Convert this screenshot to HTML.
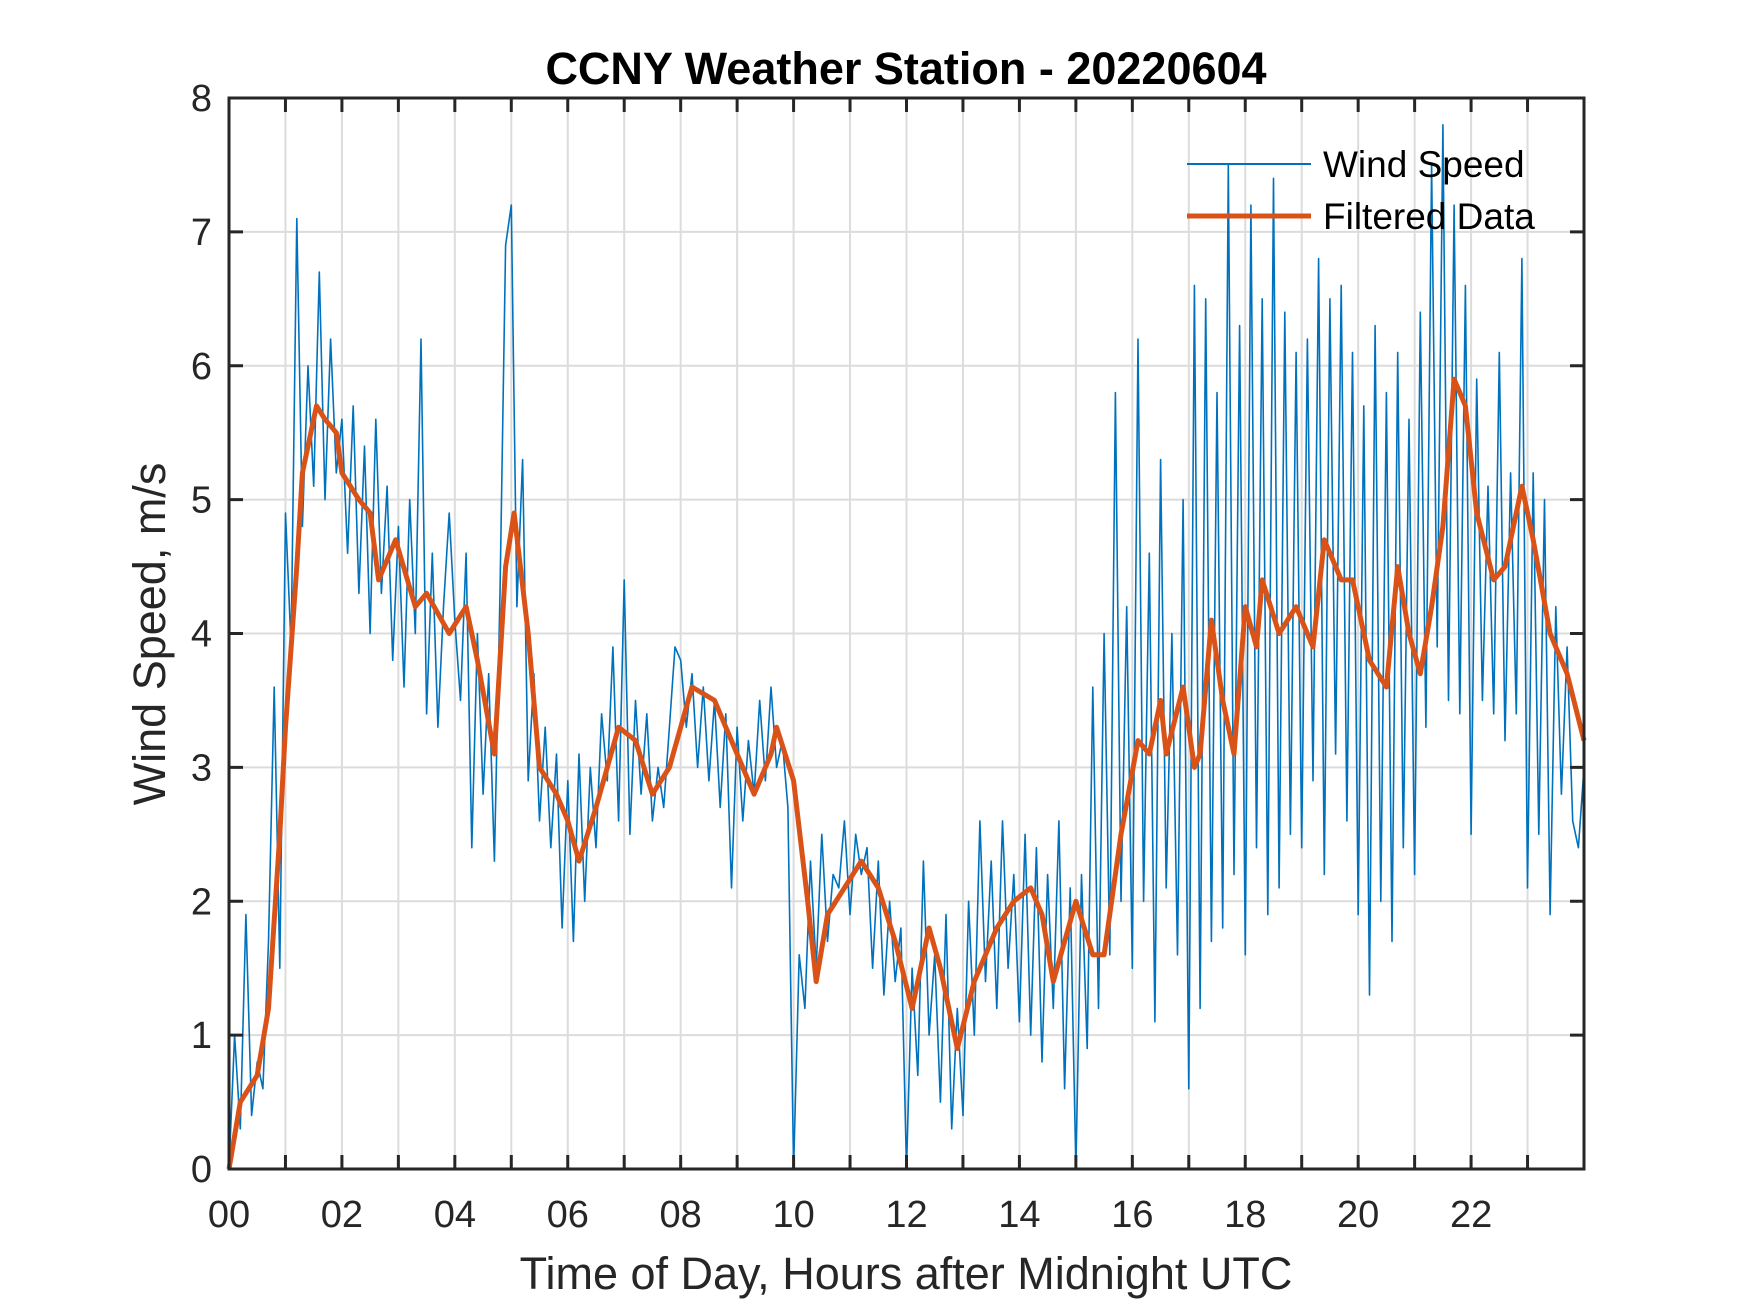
<!DOCTYPE html>
<html><head><meta charset="utf-8"><style>body{margin:0;background:#fff}svg{display:block}</style></head>
<body>
<svg id="chart" width="1750" height="1313" viewBox="0 0 1750 1313" font-family="'Liberation Sans', Arial, sans-serif">
<rect width="1750" height="1313" fill="#fff"/>
<g id="grid"></g>
<g id="series"></g>
<g id="axes"></g>
<text x="906" y="84" text-anchor="middle" font-size="45" font-weight="bold" fill="#000">CCNY Weather Station - 20220604</text>
<text x="906" y="1289" text-anchor="middle" font-size="45" fill="#262626">Time of Day, Hours after Midnight UTC</text>
<text transform="translate(165,634) rotate(-90)" text-anchor="middle" font-size="45" fill="#262626">Wind Speed, m/s</text>
<g>
<line x1="1187" y1="164" x2="1311" y2="164" stroke="#0072BD" stroke-width="2"/>
<text x="1323" y="177" font-size="37" fill="#000">Wind Speed</text>
<line x1="1187" y1="216" x2="1311" y2="216" stroke="#D95319" stroke-width="5"/>
<text x="1323" y="229" font-size="37" fill="#000">Filtered Data</text>
</g>
</svg>
<script>
const windRaw = [
0,1.0,0.3,1.9,0.4,0.8,0.6,1.7,3.6,1.5,
4.9,3.9,7.1,4.8,6.0,5.1,6.7,5.0,6.2,5.2,
5.6,4.6,5.7,4.3,5.4,4.0,5.6,4.3,5.1,3.8,
4.8,3.6,5.0,4.0,6.2,3.4,4.6,3.3,4.2,4.9,
4.1,3.5,4.6,2.4,4.0,2.8,3.7,2.3,4.3,6.9,
7.2,4.2,5.3,2.9,3.7,2.6,3.3,2.4,3.1,1.8,
2.9,1.7,3.1,2.0,3.0,2.4,3.4,2.9,3.9,2.6,
4.4,2.5,3.5,2.8,3.4,2.6,3.0,2.7,3.3,3.9,
3.8,3.3,3.7,3.0,3.6,2.9,3.5,2.7,3.4,2.1,
3.3,2.6,3.2,2.8,3.5,2.9,3.6,3.0,3.2,2.7,
0.0,1.6,1.2,2.3,1.5,2.5,1.7,2.2,2.1,2.6,
1.9,2.5,2.2,2.4,1.5,2.3,1.3,2.0,1.4,1.8,
0.0,1.5,0.7,2.3,1.0,1.6,0.5,1.9,0.3,1.2,
0.4,2.0,1.0,2.6,1.4,2.3,1.2,2.6,1.5,2.2,
1.1,2.5,1.0,2.4,0.8,2.2,1.2,2.6,0.6,2.1,
0.0,2.2,0.9,3.6,1.2,4.0,1.6,5.8,2.0,4.2,
1.5,6.2,2.0,4.6,1.1,5.3,2.1,4.0,1.6,5.0,
0.6,6.6,1.2,6.5,1.7,5.8,1.8,7.5,2.2,6.3,
1.6,7.2,2.4,6.5,1.9,7.4,2.1,6.4,2.5,6.1,
2.4,6.2,2.9,6.8,2.2,6.5,3.1,6.6,2.6,6.1,
1.9,5.7,1.3,6.3,2.0,5.8,1.7,6.1,2.4,5.6,
2.2,6.4,3.3,7.5,3.9,7.8,3.5,7.2,3.4,6.6,
2.5,5.9,3.5,5.1,3.4,6.1,3.2,5.2,3.4,6.8,
2.1,5.2,2.5,5.0,1.9,4.2,2.8,3.9,2.6,2.4,
3.0];
const rawStepHours = 0.1;
const filtTimes = [0,0.2,0.5,0.7,0.9,1.0,1.2,1.3,1.55,1.7,1.9,2.0,2.3,2.5,2.65,2.95,3.3,3.5,3.9,4.2,4.4,4.7,4.9,5.05,5.3,5.5,5.8,6.0,6.2,6.5,6.7,6.9,7.2,7.5,7.8,8.2,8.6,9.0,9.3,9.6,9.7,10.0,10.25,10.4,10.6,10.9,11.2,11.5,11.8,12.1,12.4,12.6,12.9,13.2,13.6,13.9,14.2,14.4,14.6,14.8,15.0,15.3,15.5,15.8,16.1,16.3,16.5,16.6,16.9,17.1,17.2,17.4,17.6,17.8,18.0,18.2,18.3,18.6,18.9,19.2,19.4,19.7,19.9,20.2,20.5,20.7,20.9,21.1,21.3,21.5,21.7,21.9,22.1,22.4,22.6,22.9,23.1,23.4,23.7,24.0];
const filtValues = [0,0.5,0.7,1.2,2.5,3.3,4.5,5.2,5.7,5.6,5.5,5.2,5.0,4.9,4.4,4.7,4.2,4.3,4.0,4.2,3.8,3.1,4.5,4.9,4.0,3.0,2.8,2.6,2.3,2.7,3.0,3.3,3.2,2.8,3.0,3.6,3.5,3.1,2.8,3.1,3.3,2.9,2.0,1.4,1.9,2.1,2.3,2.1,1.7,1.2,1.8,1.5,0.9,1.4,1.8,2.0,2.1,1.9,1.4,1.7,2.0,1.6,1.6,2.5,3.2,3.1,3.5,3.1,3.6,3.0,3.1,4.1,3.5,3.1,4.2,3.9,4.4,4.0,4.2,3.9,4.7,4.4,4.4,3.8,3.6,4.5,4.0,3.7,4.2,4.8,5.9,5.7,4.9,4.4,4.5,5.1,4.7,4.0,3.7,3.2];
const xTickLabels = ["00","02","04","06","08","10","12","14","16","18","20","22"];
const yTickLabels = ["0","1","2","3","4","5","6","7","8"];

const L=229,R=1584,T=98,B=1169,NS="http://www.w3.org/2000/svg";
const xs=h=>L+(h/24)*(R-L), ys=v=>B-(v/8)*(B-T);
function mk(tag,attrs,parent){const e=document.createElementNS(NS,tag);for(const k in attrs)e.setAttribute(k,attrs[k]);parent.appendChild(e);return e;}
const grid=document.getElementById('grid'),axes=document.getElementById('axes'),series=document.getElementById('series');
for(let h=1;h<24;h++){const g=mk('line',{x1:xs(h),x2:xs(h),y1:T,y2:B,stroke:'#dcdcdc','stroke-width':2},grid);

}
for(let v=1;v<8;v++){const g=mk('line',{x1:L,x2:R,y1:ys(v),y2:ys(v),stroke:'#dcdcdc','stroke-width':2},grid);

}
let p=windRaw.map((v,i)=>xs(i*rawStepHours).toFixed(1)+','+ys(v).toFixed(1)).join(' ');
const rl=mk('polyline',{points:p,fill:'none',stroke:'#0072BD','stroke-width':1.6,'stroke-linejoin':'round'},series);


p=filtValues.map((v,i)=>xs(filtTimes[i]).toFixed(1)+','+ys(v).toFixed(1)).join(' ');
const fl=mk('polyline',{points:p,fill:'none',stroke:'#D95319','stroke-width':5,'stroke-linejoin':'round'},series);


const box=mk('rect',{x:L,y:T,width:R-L,height:B-T,fill:'none',stroke:'#262626','stroke-width':3},axes);


for(let h=1;h<24;h++){
 const t1=mk('line',{x1:xs(h),x2:xs(h),y1:B,y2:B-14,stroke:'#262626','stroke-width':3},axes);
 
 
 const t2=mk('line',{x1:xs(h),x2:xs(h),y1:T,y2:T+14,stroke:'#262626','stroke-width':3},axes);
 
 }
xTickLabels.forEach((s,i)=>{const t=mk('text',{x:xs(i*2),y:1227,'text-anchor':'middle','font-size':38,fill:'#262626'},axes);t.textContent=s;
 
 });
for(let v=1;v<8;v++){
 const t1=mk('line',{x1:L,x2:L+14,y1:ys(v),y2:ys(v),stroke:'#262626','stroke-width':3},axes);
 
 
 const t2=mk('line',{x1:R,x2:R-14,y1:ys(v),y2:ys(v),stroke:'#262626','stroke-width':3},axes);
 
 }
yTickLabels.forEach((s,i)=>{const t=mk('text',{x:212,y:ys(i)+13,'text-anchor':'end','font-size':38,fill:'#262626'},axes);t.textContent=s;
 
 });
</script>
</body></html>
